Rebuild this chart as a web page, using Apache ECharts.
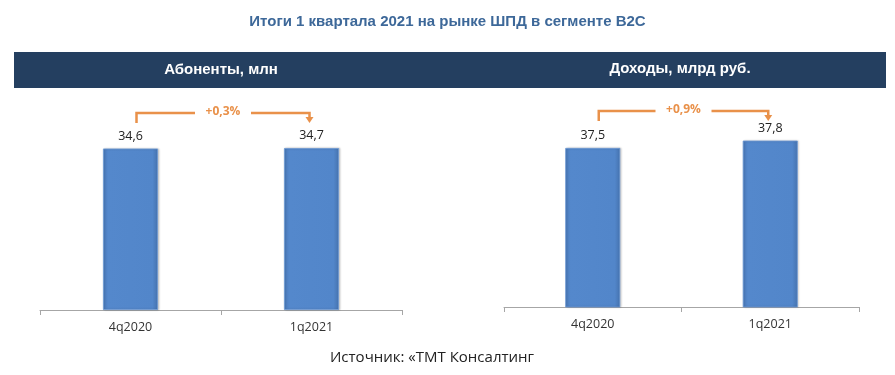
<!DOCTYPE html>
<html><head><meta charset="utf-8">
<script src="https://cdn.jsdelivr.net/npm/echarts@6/dist/echarts.min.js"></script>
<style>html,body{margin:0;padding:0;background:#fff}#c{width:895px;height:375px}</style>
</head><body><div id="c"></div>
<script>
const title = 'Итоги 1 квартала 2021 на рынке ШПД в сегменте B2C';
const panelTitles = ['Абоненты, млн', 'Доходы, млрд руб.'];
const categories = ['4q2020', '1q2021'];
const subscribers = [34.6, 34.7];
const revenue = [37.5, 37.8];
const growth = ['+0,3%', '+0,9%'];
const source = 'Источник: «ТМТ Консалтинг';

const FONT = "'Liberation Sans Narrow','Liberation Sans','DejaVu Sans Condensed',sans-serif";
const FONT2 = "'Open Sans','Liberation Sans',sans-serif";
const ORANGE = '#E9914A';

const chart = echarts.init(document.getElementById('c'), null, {renderer: 'canvas'});
const barColor = new echarts.graphic.LinearGradient(0, 0, 1, 0, [
  {offset: 0, color: '#4b7cbd'}, {offset: 0.1, color: '#5488cc'},
  {offset: 0.9, color: '#5286ca'}, {offset: 1, color: '#4572ae'}]);
const fmt = p => String(p.value).replace('.', ',');

function xAxis(i) {
  return {type: 'category', gridIndex: i, data: categories,
    axisLine: {lineStyle: {color: '#a6a6a6', width: 1}},
    axisTick: {show: true, length: 5, lineStyle: {color: '#a6a6a6'}, alignWithLabel: false},
    axisLabel: {color: '#333', fontSize: 12.5, fontFamily: FONT2, margin: 11}};
}
function yAxis(i, min, max) {
  return {type: 'value', gridIndex: i, min: min, max: max, show: false, splitLine: {show: false}};
}
function series(i, data) {
  return {type: 'bar', xAxisIndex: i, yAxisIndex: i, data: data, barWidth: 55,
    itemStyle: {color: barColor, borderColor: '#6f9ad6', borderWidth: 0.8, shadowColor: 'rgba(0,0,0,0.2)', shadowBlur: 2, shadowOffsetX: 1},
    label: {show: true, position: 'top', distance: 6, formatter: fmt, color: '#222', fontSize: 12.5, fontFamily: FONT2}};
}

chart.setOption({
  animation: false,
  title: {text: title, left: 'center', top: 9,
    textStyle: {color: '#3d6899', fontSize: 15, fontWeight: 'bold', fontFamily: FONT}},
  grid: [
    {left: 40, right: 493, top: 100, bottom: 65},
    {left: 504, right: 36, top: 99, bottom: 68}
  ],
  xAxis: [xAxis(0), xAxis(1)],
  yAxis: [yAxis(0, 0, 45), yAxis(1, 31, 39.5)],
  series: [series(0, subscribers), series(1, revenue)]
});

function bracket(gi, data, lineY, txt) {
  const p0 = chart.convertToPixel({gridIndex: gi}, [0, data[0]]);
  const p1 = chart.convertToPixel({gridIndex: gi}, [1, data[1]]);
  const x0 = p0[0] + 6, x1 = p1[0] - 2;
  const mid = (x0 + x1) / 2;
  const gap = 28;
  const ls = {stroke: ORANGE, lineWidth: 2.5, lineCap: 'butt', fill: null};
  return [
    {type: 'polyline', shape: {points: [[x0, lineY + 10], [x0, lineY], [mid - gap, lineY]]}, style: ls},
    {type: 'polyline', shape: {points: [[mid + gap, lineY], [x1, lineY], [x1, lineY + 5]]}, style: ls},
    {type: 'polygon', shape: {points: [[x1 - 4, lineY + 4], [x1 + 4, lineY + 4], [x1, lineY + 10]]}, style: {fill: ORANGE}},
    {type: 'text', x: mid, y: lineY - 1, style: {text: txt, fill: ORANGE, font: 'bold 12px ' + FONT2, textAlign: 'center', textVerticalAlign: 'middle'}}
  ];
}

const graphics = [
  {type: 'rect', shape: {x: 14, y: 52, width: 872, height: 36}, style: {fill: '#243f60'}, z: 0},
  {type: 'text', x: 221, y: 70, style: {text: panelTitles[0], fill: '#fff', font: 'bold 15px ' + FONT, textAlign: 'center', textVerticalAlign: 'middle'}},
  {type: 'text', x: 680, y: 69, style: {text: panelTitles[1], fill: '#fff', font: 'bold 15px ' + FONT, textAlign: 'center', textVerticalAlign: 'middle'}},
  {type: 'text', x: 432, y: 358, style: {text: source, fill: '#222', font: '15px ' + FONT2, textAlign: 'center', textVerticalAlign: 'middle'}}
].concat(bracket(0, subscribers, 113, growth[0]), bracket(1, revenue, 111, growth[1]));

chart.setOption({graphic: graphics});
</script></body></html>
